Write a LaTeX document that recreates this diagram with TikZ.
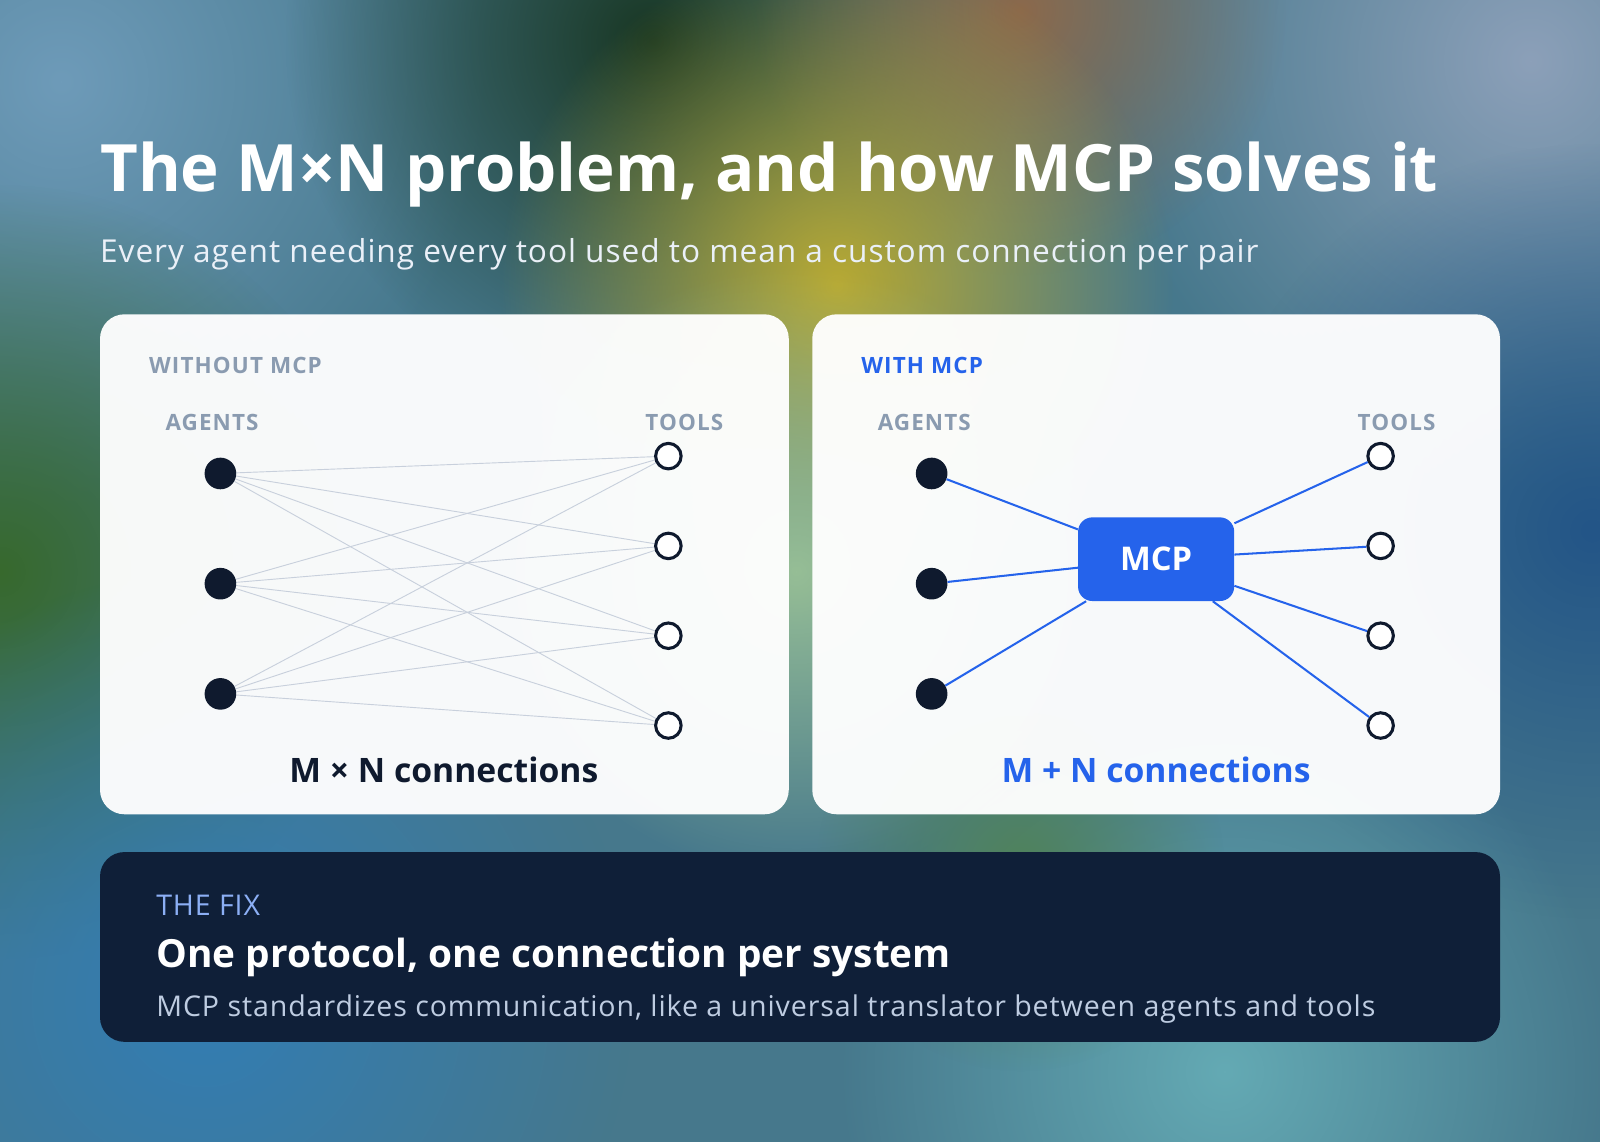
\documentclass[tikz,border=0pt]{standalone}
\usepackage{fontspec}
\setmainfont{Open Sans}
\usetikzlibrary{fadings}
\tikzfading[name=softfade, inner color=transparent!0, outer color=transparent!100]
\definecolor{ink}{HTML}{0F1A2E}
\definecolor{mblue}{HTML}{2563EB}
\definecolor{lbl}{HTML}{8A9BB0}
\definecolor{gline}{HTML}{C8D0DC}
\definecolor{fixbg}{HTML}{0F1F38}
\definecolor{bgbase}{HTML}{46788C}
\definecolor{c1}{HTML}{6E9BB9}
\definecolor{c2}{HTML}{8CA0B9}
\definecolor{c3}{HTML}{193723}
\definecolor{c4}{HTML}{8C694B}
\definecolor{c5}{HTML}{B9AA32}
\definecolor{c6}{HTML}{37692D}
\definecolor{c7}{HTML}{235587}
\definecolor{c8}{HTML}{96BE96}
\definecolor{c9}{HTML}{327DB4}
\definecolor{c10}{HTML}{64AAB4}
\definecolor{c11}{HTML}{50825A}
\definecolor{subc}{HTML}{EAF0F8}
\definecolor{fixc}{HTML}{8CAFF5}
\definecolor{fixd}{HTML}{BECCE1}
\begin{document}
\begin{tikzpicture}[x=1pt,y=-1pt,
  blob/.style={fill=#1, path fading=softfade},
  card/.style={fill=white, fill opacity=0.96, rounded corners=24pt},
  agent/.style={circle, fill=ink, minimum size=31pt, inner sep=0pt},
  tool/.style={circle, draw=ink, line width=3pt, fill=white, minimum size=25pt, inner sep=0pt},
  lab/.style={text=lbl, font=\fontsize{22}{25}\selectfont\bfseries\addfontfeature{LetterSpace=5}, anchor=base west, inner sep=0pt},
  gl/.style={draw=gline, line width=0.9pt},
  bl/.style={draw=mblue, line width=2pt}]
\useasboundingbox (0,0) rectangle (1568,1119);
\fill[bgbase] (0,0) rectangle (1568,1119);
\begin{scope}
\clip (0,0) rectangle (1568,1119);
\fill[blob=c1] (60,80) circle (420);
\fill[blob=c2] (1500,60) circle (420);
\fill[blob=c3] (640,40) circle (360);
\fill[blob=c4] (1000,10) circle (260);
\fill[blob=c5] (820,280) circle (330);
\fill[blob=c6] (0,560) circle (380);
\fill[blob=c7] (1560,520) circle (380);
\fill[blob=c8] (780,560) circle (300);
\fill[blob=c9] (200,980) circle (420);
\fill[blob=c10] (1200,1050) circle (380);
\fill[blob=c11] (1000,850) circle (200);
\end{scope}
\node[anchor=base west, text=white, font=\fontsize{64}{70}\selectfont\bfseries, inner sep=0] (title) at (98,188) {The M×N problem, and how MCP solves it};
\node[anchor=base west, text=subc, font=\fontsize{31}{34}\selectfont\addfontfeature{LetterSpace=3}, inner sep=0] (sub) at (98,257) {Every agent needing every tool used to mean a custom connection per pair};
\path[card] (98,308) rectangle (773,798);
\path[card] (796,308) rectangle (1470,798);
% left
\node[lab] (wo) at (146,366) {WITHOUT MCP};
\node[lab] (la) at (162,422) {AGENTS};
\node[lab, anchor=base east] (lt) at (709,422) {TOOLS};
\foreach \i/\y in {1/464,2/572,3/680} \coordinate (a\i) at (216,\y);
\foreach \j/\y in {1/447,2/535,3/623,4/711} \coordinate (t\j) at (655,\y);
\foreach \i in {1,2,3} \foreach \j in {1,2,3,4} \draw[gl] (a\i) -- (t\j);
\foreach \i in {1,2,3} \node[agent] (ag\i) at (a\i) {};
\foreach \j in {1,2,3,4} \node[tool] (tl\j) at (t\j) {};
\node[anchor=base, text=ink, font=\fontsize{33}{36}\selectfont\bfseries, inner sep=0] (mn) at (435,767) {M × N connections};
% right
\node[lab, text=mblue] (wi) at (844,366) {WITH MCP};
\node[lab] (ra) at (860,422) {AGENTS};
\node[lab, anchor=base east] (rt) at (1407,422) {TOOLS};
\node[fill=mblue, rounded corners=14pt, minimum width=153pt, minimum height=82pt, text=white, font=\fontsize{32}{36}\selectfont\bfseries] (mcp) at (1133,548) {MCP};
\foreach \i/\y in {1/464,2/572,3/680} \node[agent] (b\i) at (913,\y) {};
\foreach \j/\y in {1/447,2/535,3/623,4/711} \node[tool] (s\j) at (1353,\y) {};
\foreach \i in {1,2,3} \draw[bl] (b\i) -- (mcp);
\foreach \j in {1,2,3,4} \draw[bl] (mcp) -- (s\j);
\node[anchor=base, text=mblue, font=\fontsize{33}{36}\selectfont\bfseries, inner sep=0] (pn) at (1133,767) {M + N connections};
% fix box
\fill[fixbg, rounded corners=24pt] (98,835) rectangle (1470,1021);
\node[anchor=base west, inner sep=0, text=fixc, font=\fontsize{28}{30}\selectfont\addfontfeature{LetterSpace=3}] (fx) at (153,897) {THE FIX};
\node[anchor=base west, inner sep=0, text=white, font=\fontsize{38}{42}\selectfont\bfseries] (fh) at (153,948) {One protocol, one connection per system};
\node[anchor=base west, inner sep=0, text=fixd, font=\fontsize{28}{30}\selectfont\addfontfeature{LetterSpace=3.2}] (fd) at (153,996) {MCP standardizes communication, like a universal translator between agents and tools};
\end{tikzpicture}
\end{document}
